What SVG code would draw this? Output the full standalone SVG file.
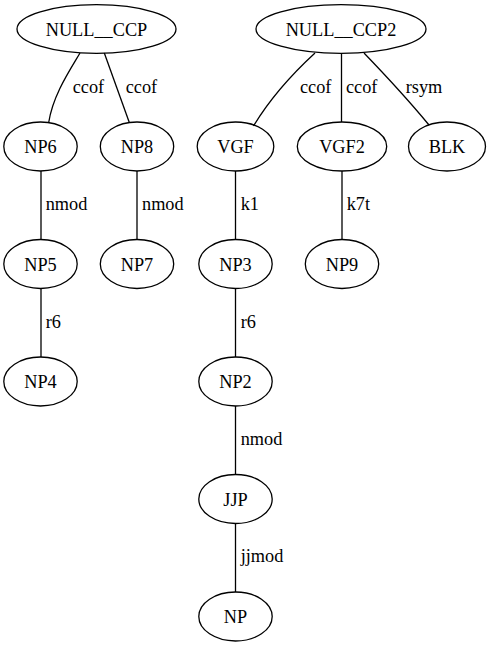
<svg xmlns="http://www.w3.org/2000/svg" width="489" height="645" viewBox="0 0 489 645" font-family="'Liberation Serif', 'DejaVu Serif', serif">
  <style>
    .node ellipse { fill: none; stroke: #000; stroke-width: 1.3; }
    .node text { font-family: 'Liberation Serif', 'DejaVu Serif', serif; font-size: 18.3px; text-anchor: middle; fill: #000; }
    #edges path { fill: none; stroke: #000; stroke-width: 1.3; }
    #edges text { font-family: 'Liberation Serif', 'DejaVu Serif', serif; font-size: 18.3px; text-anchor: start; fill: #000; }
  </style>
  <rect width="489" height="645" fill="#fff"/>

  <g id="edges">
    <path d="M80,53 C70,70 53,95 48.7,122.5"/>
    <text x="72.7" y="93">ccof</text>
    <path d="M104.3,53 L129.3,122.5"/>
    <text x="125.7" y="93">ccof</text>
    <path d="M315,53 C290,76 268,102 253.5,126"/>
    <text x="300" y="93">ccof</text>
    <path d="M341.5,53 L341.5,122"/>
    <text x="346" y="93">ccof</text>
    <path d="M364,53 C390,80 410,102 429,125"/>
    <text x="405.7" y="93">rsym</text>

    <path d="M41,171 L41,239.5"/>
    <text x="45.7" y="210">nmod</text>
    <path d="M137,171 L137,239.5"/>
    <text x="142" y="210">nmod</text>
    <path d="M235.5,171 L235.5,239.5"/>
    <text x="240.7" y="210">k1</text>
    <path d="M342,171 L342,239.5"/>
    <text x="346.7" y="210">k7t</text>

    <path d="M41,288.5 L41,357"/>
    <text x="45.7" y="327.5">r6</text>
    <path d="M235.5,288.5 L235.5,357"/>
    <text x="240.7" y="327.5">r6</text>
    <path d="M235.5,406 L235.5,474.5"/>
    <text x="240.7" y="444.5">nmod</text>
    <path d="M235.5,523.5 L235.5,592"/>
    <text x="240.7" y="561.5">jjmod</text>
  </g>

  <g id="NULL__CCP" class="node"><ellipse cx="96.5" cy="29" rx="79.5" ry="24.3"/><text x="96.5" y="35.5">NULL__CCP</text></g>
  <g id="NULL__CCP2" class="node"><ellipse cx="341" cy="29" rx="85" ry="24.3"/><text x="341" y="35.5">NULL__CCP2</text></g>

  <g id="NP6" class="node"><ellipse cx="40.5" cy="146.5" rx="36.7" ry="24.5"/><text x="40.5" y="153">NP6</text></g>
  <g id="NP8" class="node"><ellipse cx="137" cy="146.5" rx="36.7" ry="24.5"/><text x="137" y="153">NP8</text></g>
  <g id="VGF" class="node"><ellipse cx="235.5" cy="146.5" rx="38.3" ry="24.5"/><text x="235.5" y="153">VGF</text></g>
  <g id="VGF2" class="node"><ellipse cx="342" cy="146.5" rx="44.7" ry="24.5"/><text x="342" y="153">VGF2</text></g>
  <g id="BLK" class="node"><ellipse cx="447" cy="146.5" rx="38.5" ry="24.5"/><text x="447" y="153">BLK</text></g>

  <g id="NP5" class="node"><ellipse cx="40.5" cy="264" rx="36.7" ry="24.5"/><text x="40.5" y="270.5">NP5</text></g>
  <g id="NP7" class="node"><ellipse cx="137" cy="264" rx="36.7" ry="24.5"/><text x="137" y="270.5">NP7</text></g>
  <g id="NP3" class="node"><ellipse cx="235.5" cy="264" rx="36.7" ry="24.5"/><text x="235.5" y="270.5">NP3</text></g>
  <g id="NP9" class="node"><ellipse cx="342" cy="264" rx="36.7" ry="24.5"/><text x="342" y="270.5">NP9</text></g>

  <g id="NP4" class="node"><ellipse cx="40.5" cy="381.5" rx="36.7" ry="24.5"/><text x="40.5" y="388">NP4</text></g>
  <g id="NP2" class="node"><ellipse cx="235.5" cy="381.5" rx="36.7" ry="24.5"/><text x="235.5" y="388">NP2</text></g>

  <g id="JJP" class="node"><ellipse cx="235.5" cy="499" rx="36.7" ry="24.5"/><text x="235.5" y="505.5">JJP</text></g>
  <g id="NP" class="node"><ellipse cx="235.5" cy="616.5" rx="36.7" ry="24.5"/><text x="235.5" y="623">NP</text></g>
</svg>
